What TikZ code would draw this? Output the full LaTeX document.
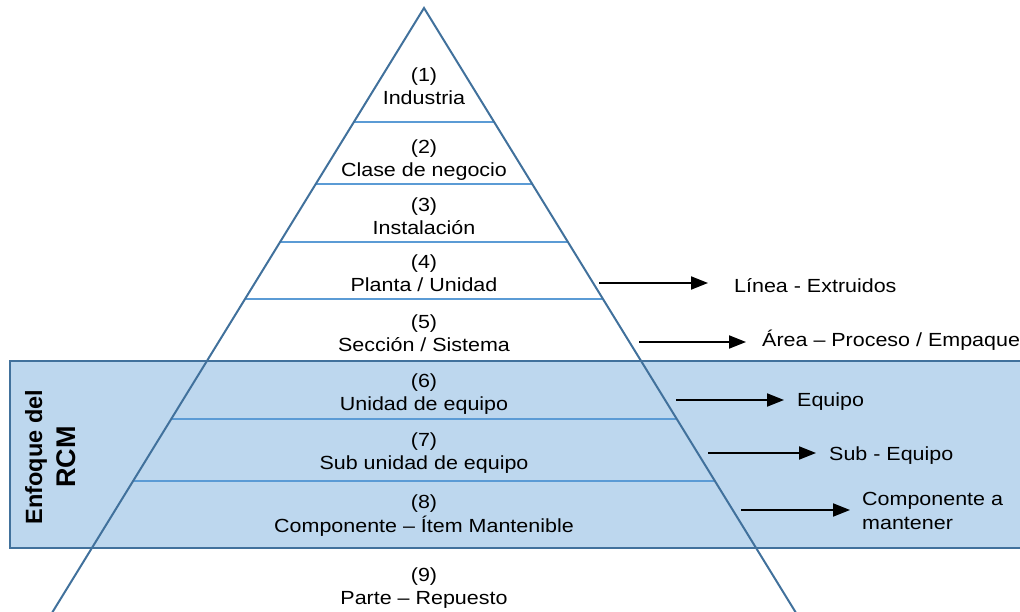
\documentclass[tikz,border=0pt]{standalone}
\usepackage{graphicx}
\usepackage{fontspec}
\setmainfont{Liberation Sans}
\usetikzlibrary{arrows.meta}
\definecolor{boxfill}{HTML}{BDD7EE}
\definecolor{boxline}{HTML}{41719C}
\definecolor{edgecol}{HTML}{41719C}
\definecolor{levcol}{HTML}{5B9BD5}
\newcommand{\sx}[1]{\scalebox{1.13}[1]{#1}}
\begin{document}
\begin{tikzpicture}[x=1pt,y=-1pt,
  lvl/.style={align=center,inner sep=0pt,font=\fontsize{19}{23}\selectfont},
  rlab/.style={align=left,inner sep=0pt,font=\fontsize{19}{24}\selectfont},
  edge/.style={draw=edgecol,line width=2pt},
  levline/.style={draw=levcol,line width=1.5pt},
  arr/.style={draw=black,line width=2pt,-{Triangle[length=17pt,width=13pt]}}]
\useasboundingbox (0,0) rectangle (1020,612);
\clip (0,0) rectangle (1020,612);
% RCM band
\draw[fill=boxfill,draw=boxline,line width=2.5pt] (10,361) rectangle (1030,548);
% pyramid
\coordinate (apex) at (424,8);
\coordinate (bl) at ({424-0.615*612},620);
\coordinate (br) at ({424+0.615*612},620);
\foreach \y in {122,184,242,299,419,481}
  \draw[levline] ({424-0.615*(\y-8)},\y) -- ({424+0.615*(\y-8)},\y);
\draw[edge] (bl) -- (apex) -- (br);
% levels
\node[lvl] (l1) at (424,88.5) {\sx{\strut(1)}\\\sx{\strut Industria}};
\node[lvl] (l2) at (424,160.5) {\sx{\strut(2)}\\\sx{\strut Clase de negocio}};
\node[lvl] (l3) at (424,218) {\sx{\strut(3)}\\\sx{\strut Instalación}};
\node[lvl] (l4) at (424,275.5) {\sx{\strut(4)}\\\sx{\strut Planta / Unidad}};
\node[lvl] (l5) at (424,335) {\sx{\strut(5)}\\\sx{\strut Sección / Sistema}};
\node[lvl] (l6) at (424,394) {\sx{\strut(6)}\\\sx{\strut Unidad de equipo}};
\node[lvl] (l7) at (424,453) {\sx{\strut(7)}\\\sx{\strut Sub unidad de equipo}};
\node[lvl] (l8) at (424,516) {\sx{\strut(8)}\\\sx{\strut Componente – Ítem Mantenible}};
\node[lvl] (l9) at (424,588) {\sx{\strut(9)}\\\sx{\strut Parte – Repuesto}};
% side label
\node[rotate=90,align=center,inner sep=0pt,font=\fontsize{23.5}{33}\selectfont\bfseries] (rcm) at (52,457) {\strut Enfoque del\\\fontsize{27}{33}\selectfont\strut RCM};
% right labels
\node[rlab,anchor=base west] (r1) at (734,293) {\sx{Línea - Extruidos}};
\node[rlab,anchor=base west] (r2) at (762,346) {\sx{Área – Proceso / Empaque}};
\node[rlab,anchor=base west] (r3) at (797,406) {\sx{Equipo}};
\node[rlab,anchor=base west] (r4) at (829,460) {\sx{Sub - Equipo}};
\node[rlab,anchor=north west] (r5) at (862,488.2) {\sx{\strut Componente a}\\\sx{\strut mantener}};
% arrows
\coordinate (a1s) at (599,283); \coordinate (a1e) at (708,283);
\coordinate (a2s) at (639,342); \coordinate (a2e) at (746,342);
\coordinate (a3s) at (676,400); \coordinate (a3e) at (784,400);
\coordinate (a4s) at (708,453); \coordinate (a4e) at (816,453);
\coordinate (a5s) at (741,510); \coordinate (a5e) at (850,510);
\draw[arr] (a1s) -- (a1e);
\draw[arr] (a2s) -- (a2e);
\draw[arr] (a3s) -- (a3e);
\draw[arr] (a4s) -- (a4e);
\draw[arr] (a5s) -- (a5e);
\end{tikzpicture}
\end{document}
